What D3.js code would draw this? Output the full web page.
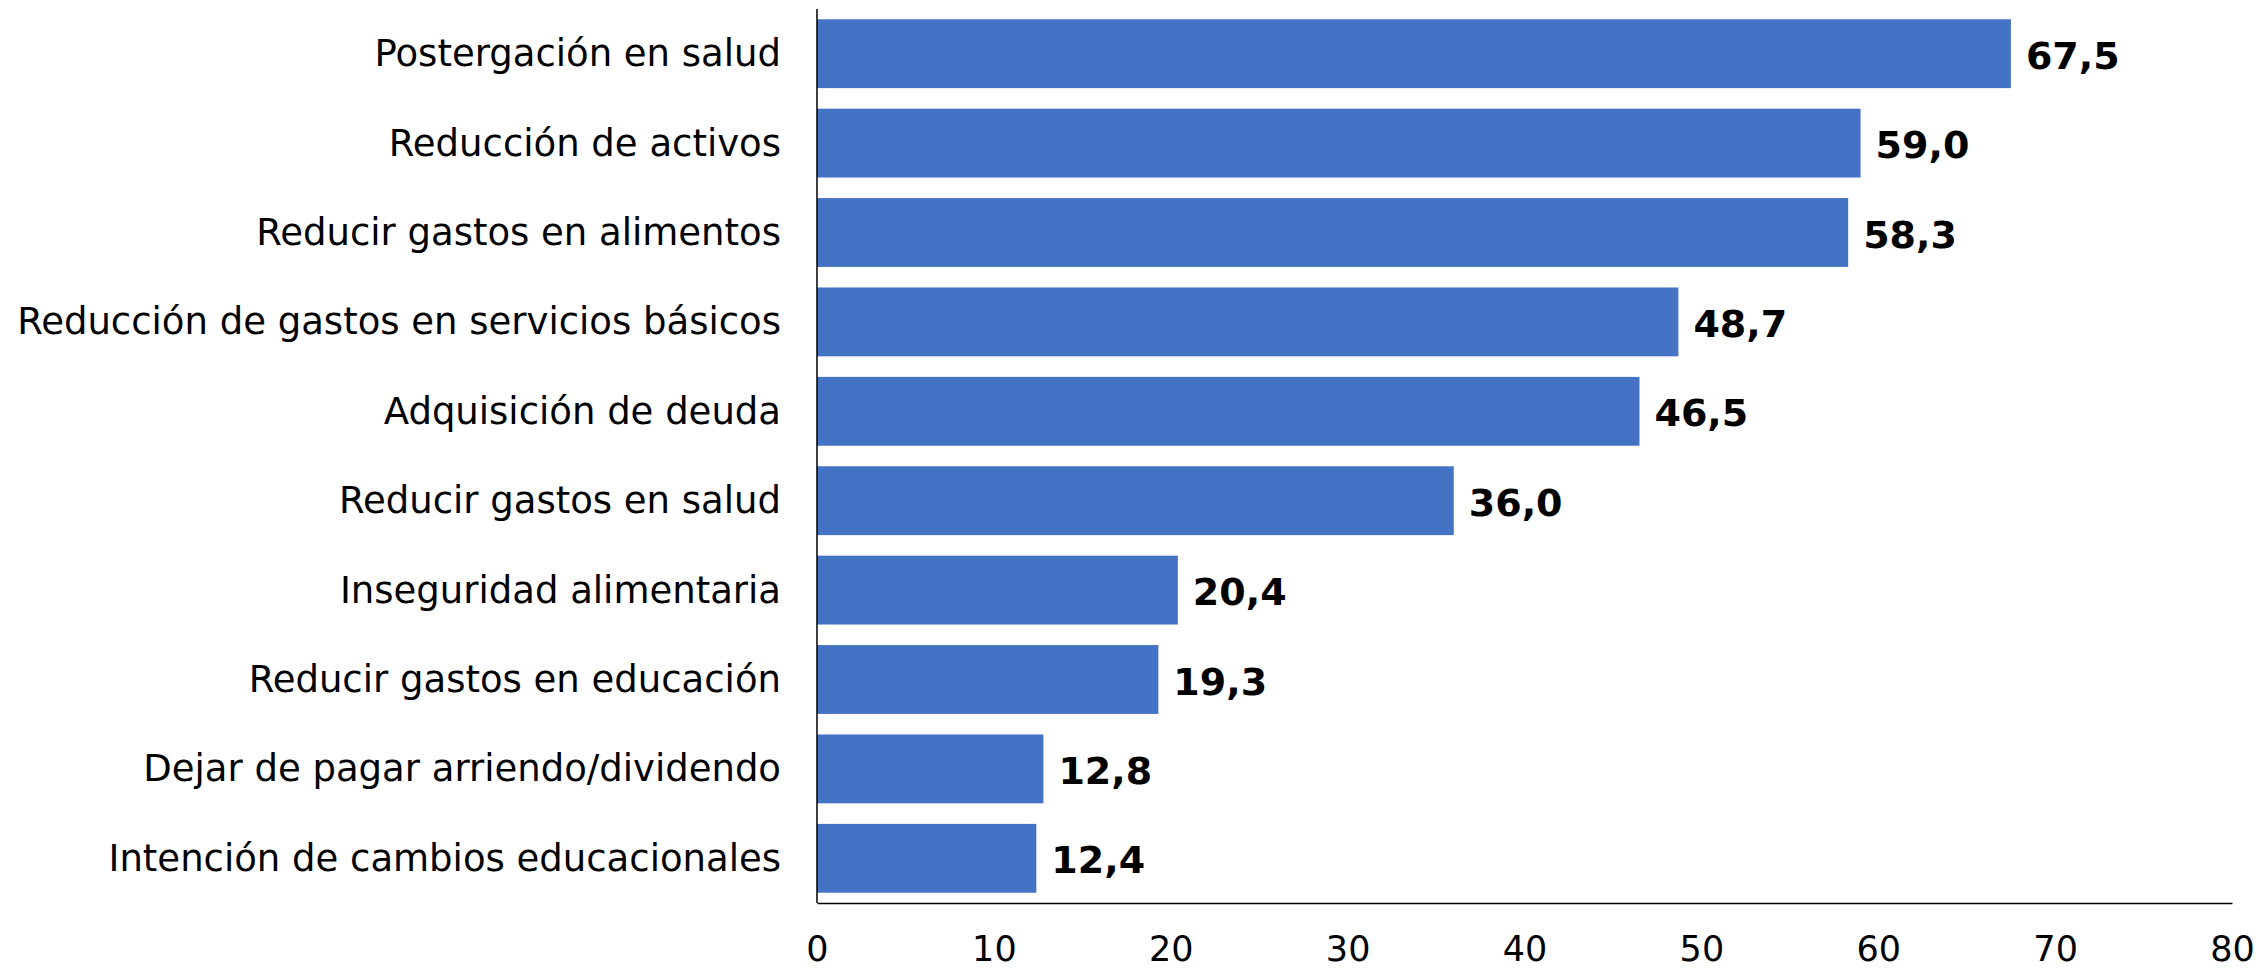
<!DOCTYPE html>
<html>
<head>
	<meta charset="utf-8">
	<title>Estrategias de los hogares</title>
	<style>
		html, body { margin:0; padding:0; background:#fff; }
		svg { font-family: "DejaVu Sans", Verdana, sans-serif; display:block; }
		.cat { font-size: 37px; fill: #000; }
		.val { font-size: 38px; font-weight: bold; fill: #000; }
		.bar { fill: #4472C4; }
	</style>
	<script src="https://d3js.org/d3.v7.min.js"></script>
</head>
<body>
<svg id="chart"></svg>
<script>

	//data
	var categories = [
		"Postergación en salud",
		"Reducción de activos",
		"Reducir gastos en alimentos",
		"Reducción de gastos en servicios básicos",
		"Adquisición de deuda",
		"Reducir gastos en salud",
		"Inseguridad alimentaria",
		"Reducir gastos en educación",
		"Dejar de pagar arriendo/dividendo",
		"Intención de cambios educacionales"
	];
	var values = [67.5, 59.0, 58.3, 48.7, 46.5, 36.0, 20.4, 19.3, 12.8, 12.4];
	var xTicks = [0, 10, 20, 30, 40, 50, 60, 70, 80];

	var W = 2259, H = 970,
			mLeft = 817, mRight = 2232, mTop = 9, mBottom = 903;

	var svg = d3.select("#chart").attr("width", W).attr("height", H);

	var x = d3.scaleLinear().domain([0, 80]).range([mLeft, mRight]);
	var y = d3.scaleBand().domain(categories).range([mTop, mBottom])
			.paddingInner(0.23).paddingOuter(0.115);

	var fmt = function(v){ return d3.format(".1f")(v).replace(".", ","); };

	//bars
	svg.append("g").selectAll("rect").data(values).enter()
			.append("rect").attr("class", "bar")
			.attr("x", x(0))
			.attr("y", function(d, i){ return y(categories[i]); })
			.attr("width", function(d){ return x(d) - x(0); })
			.attr("height", y.bandwidth());

	//value labels
	svg.append("g").selectAll("text").data(values).enter()
			.append("text").attr("class", "val")
			.attr("x", function(d){ return x(d) + 15; })
			.attr("y", function(d, i){ return y(categories[i]) + y.bandwidth()/2 + 2; })
			.attr("dominant-baseline", "central")
			.text(fmt);

	//category labels
	svg.append("g").selectAll("text").data(categories).enter()
			.append("text").attr("class", "cat")
			.attr("x", mLeft - 36)
			.attr("y", function(d){ return y(d) + y.bandwidth()/2; })
			.attr("dominant-baseline", "central")
			.attr("text-anchor", "end")
			.text(function(d){ return d; });

	//x axis
	var xAxis = svg.append("g").attr("transform", "translate(0," + mBottom + ")")
			.call(d3.axisBottom(x).tickValues(xTicks).tickSize(0).tickPadding(33).tickFormat(d3.format("d")));
	xAxis.attr("font-family", "DejaVu Sans, Verdana, sans-serif").attr("font-size", 35);
	xAxis.select(".domain").attr("stroke", "#000").attr("stroke-width", 1.5);
	xAxis.selectAll(".tick text").attr("fill", "#000");

	//y axis line
	svg.append("line").attr("x1", mLeft).attr("x2", mLeft).attr("y1", mTop).attr("y2", mBottom)
			.attr("stroke", "#000").attr("stroke-width", 1.5);

</script>
</body>
</html>
